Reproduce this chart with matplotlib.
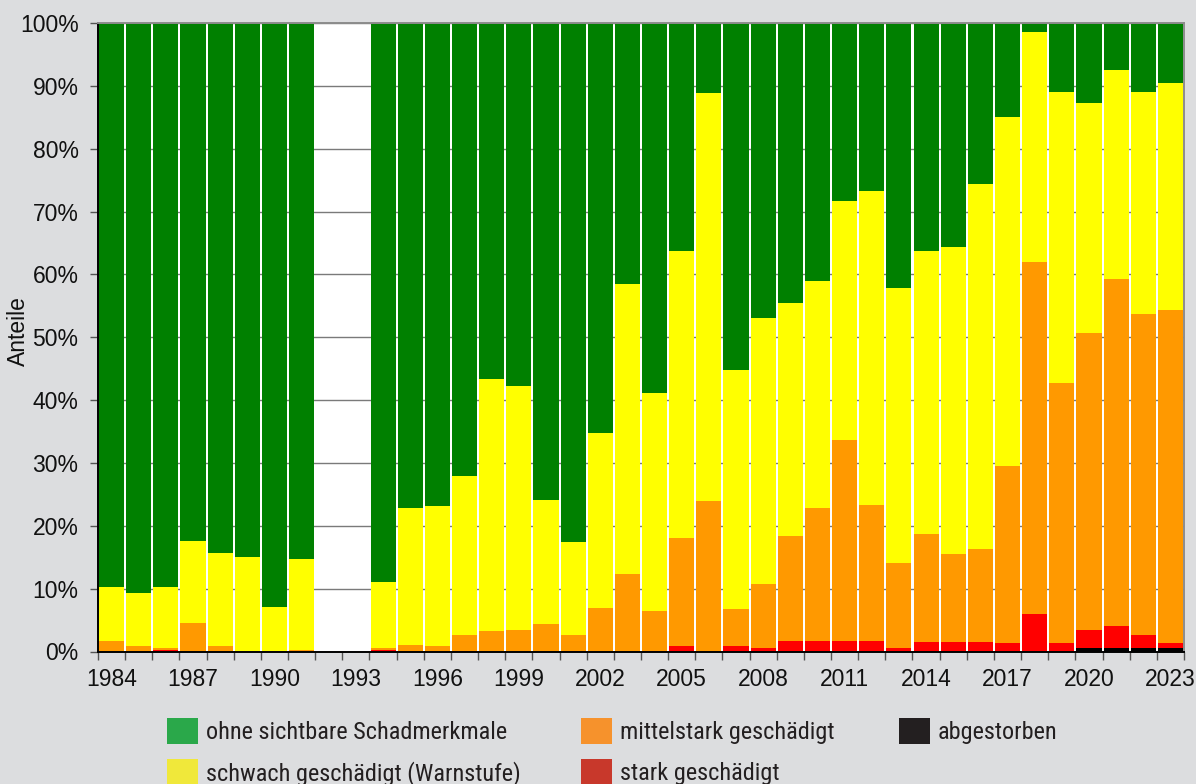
import numpy as np
import matplotlib
matplotlib.use("Agg")
import matplotlib.pyplot as plt
from matplotlib.patches import Patch
from matplotlib import font_manager

# years with survey data (1992 and 1993 missing)
years = [1984, 1985, 1986, 1987, 1988, 1989, 1990, 1991,
         1994, 1995, 1996, 1997, 1998, 1999, 2000, 2001, 2002, 2003,
         2004, 2005, 2006, 2007, 2008, 2009, 2010, 2011, 2012, 2013,
         2014, 2015, 2016, 2017, 2018, 2019, 2020, 2021, 2022, 2023]

# shares in percent
ohne = [89.7, 90.7, 89.8, 82.4, 84.4, 84.9, 92.9, 85.3,
        88.9, 77.1, 76.9, 72.0, 56.6, 57.7, 75.9, 82.5, 65.2, 41.6,
        58.9, 36.2, 11.1, 55.2, 46.9, 44.5, 41.1, 28.4, 26.7, 42.1,
        36.3, 35.6, 25.6, 15.0, 1.5, 10.9, 12.7, 7.5, 10.9, 9.6]
schwach = [8.55, 8.35, 9.7, 13.1, 14.8, 15.1, 6.95, 14.5,
           10.6, 21.8, 22.3, 25.3, 40.1, 38.8, 19.75, 14.95, 27.8, 46.1,
           34.7, 45.7, 65.0, 38.0, 42.4, 37.1, 36.0, 37.9, 50.0, 43.8,
           45.0, 48.9, 58.1, 55.5, 36.6, 46.4, 36.6, 33.2, 35.4, 36.0]
mittel = [1.75, 0.95, 0.3, 4.5, 0.8, 0.0, 0.15, 0.2,
          0.23, 1.1, 0.8, 2.6, 3.3, 3.5, 4.35, 2.45, 7.0, 12.3,
          6.3, 17.3, 23.9, 6.0, 10.2, 16.75, 21.25, 32.05, 21.65, 13.5,
          17.2, 14.0, 14.8, 28.2, 56.0, 41.4, 47.3, 55.3, 51.0, 53.1]
stark = [0.0, 0.0, 0.2, 0.0, 0.0, 0.0, 0.0, 0.0,
         0.27, 0.0, 0.0, 0.1, 0.0, 0.0, 0.0, 0.1, 0.0, 0.0,
         0.1, 0.8, 0.0, 0.8, 0.5, 1.65, 1.65, 1.65, 1.65, 0.6,
         1.5, 1.5, 1.5, 1.3, 5.9, 1.3, 2.9, 3.5, 2.2, 0.8]
tot = [0.0] * 34 + [0.5, 0.5, 0.5, 0.5]

year_labels = list(range(1984, 2024, 3))

legend_labels = ["ohne sichtbare Schadmerkmale", "schwach geschädigt (Warnstufe)",
                 "mittelstark geschädigt", "stark geschädigt", "abgestorben"]

bar_colors = ["#008000", "#ffff00", "#ff9900", "#ff0000", "#000000"]
legend_colors = ["#2aa84a", "#f0e83a", "#f6922c", "#c8382b", "#231f20"]


def pick_font(names):
    for n in names:
        try:
            font_manager.findfont(n, fallback_to_default=False)
            return n
        except Exception:
            pass
    return "DejaVu Sans"


axis_font = pick_font(["Liberation Sans", "Arial", "DejaVu Sans"])
legend_font = pick_font(["Liberation Sans Narrow", "Roboto Condensed", "Roboto"])
plt.rcParams["font.family"] = [axis_font, "DejaVu Sans"]

fig = plt.figure(figsize=(11.96, 7.84), dpi=100, facecolor="#dcdddf")
ax = fig.add_axes([98 / 1196, 1 - 651.5 / 784, 1086 / 1196, 628.5 / 784])
ax.set_facecolor("white")

x = np.array(years)
layers = [tot, stark, mittel, schwach, ohne]
layer_colors = [bar_colors[4], bar_colors[3], bar_colors[2], bar_colors[1], bar_colors[0]]
bottom = np.zeros(len(years))
for vals, col in zip(layers, layer_colors):
    v = np.array(vals)
    ax.bar(x, v, bottom=bottom, width=0.925, color=col, edgecolor="none", zorder=2)
    bottom += v

ax.set_xlim(1983.5, 2023.5)
ax.set_ylim(0, 100)

ax.set_xticks(year_labels)
ax.set_xticklabels([str(y) for y in year_labels])
ax.set_xticks(np.arange(1983.5, 2024, 1), minor=True)
ax.tick_params(axis="x", which="major", length=0, pad=12, labelsize=16.5, labelcolor="#111111")
ax.tick_params(axis="x", which="minor", length=6, width=1, color="#555555", direction="out")

ax.set_yticks(range(0, 101, 10))
ax.set_yticklabels(["%d%%" % v for v in range(0, 101, 10)])
ax.tick_params(axis="y", length=6, width=1, color="#555555", pad=8, labelsize=16.5,
               labelcolor="#111111")

ax.set_axisbelow(True)
ax.yaxis.grid(True, color="#7a7a7a", linewidth=1.0)

ax.spines["left"].set_color("black")
ax.spines["bottom"].set_color("black")
ax.spines["left"].set_linewidth(1.4)
ax.spines["bottom"].set_linewidth(1.4)
for s in ["top", "right"]:
    ax.spines[s].set_color("#8c8c8c")
    ax.spines[s].set_linewidth(1.4)
for s in ax.spines.values():
    s.set_zorder(3)

ax.set_ylabel("Anteile", fontsize=16.5, color="#111111")
ax.yaxis.set_label_coords(-0.0626, 0.51)

# legend in three columns
handles = [Patch(facecolor=c, edgecolor="none") for c in legend_colors]
fs = 17.5
fs_px = fs * 100 / 72
cols = [(167, [0, 1]), (581, [2, 3]), (899, [4])]
for left, idx in cols:
    fig.legend([handles[i] for i in idx], [legend_labels[i] for i in idx],
               loc="upper left", bbox_to_anchor=(left / 1196, 1 - 718 / 784),
               frameon=False, borderpad=0, borderaxespad=0,
               handlelength=31 / fs_px, handleheight=31 / fs_px,
               handletextpad=8 / fs_px, labelspacing=15 / fs_px,
               prop={"family": legend_font, "size": fs}, labelcolor="#231f20")

fig.savefig("out.png", dpi=100, facecolor=fig.get_facecolor())
